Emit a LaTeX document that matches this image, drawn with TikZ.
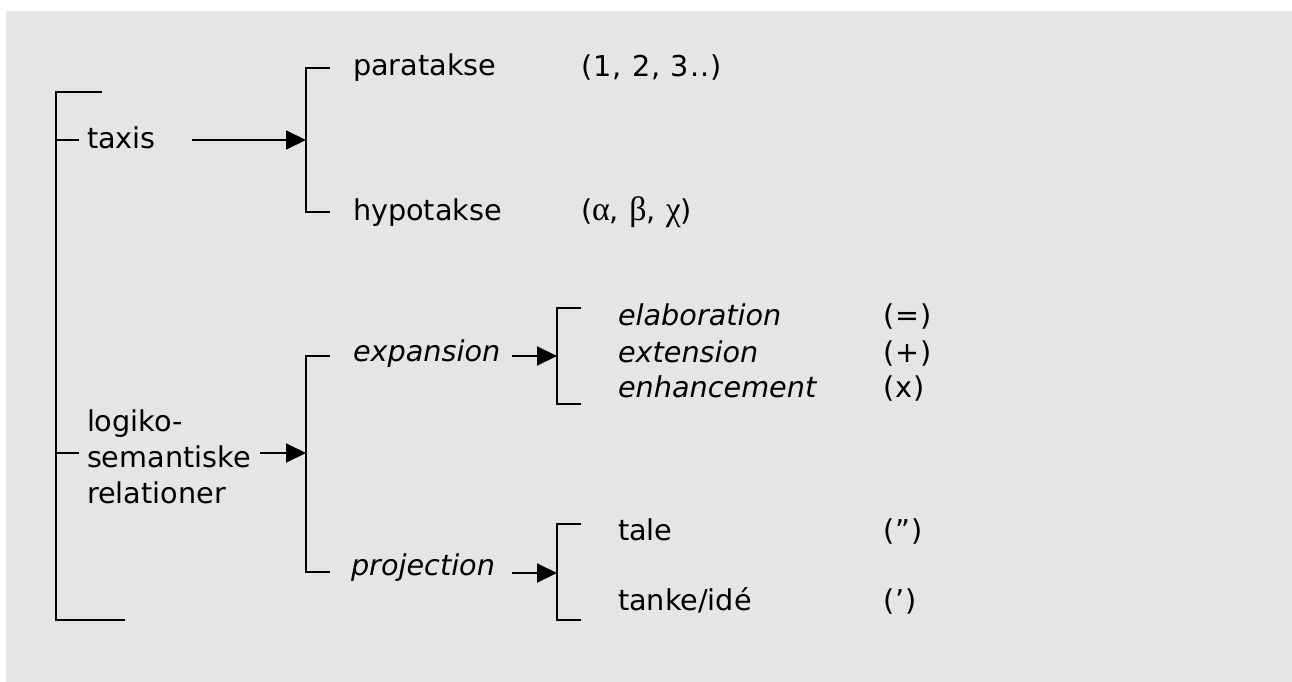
\documentclass[tikz,border=0pt]{standalone}
\usepackage{fontspec}
\setmainfont{DejaVu Sans}
\newfontfamily\greekfont[Scale=1.18]{Liberation Serif}
\newfontfamily\symfont[LetterSpace=4]{DejaVu Sans}
\usetikzlibrary{arrows.meta}
\definecolor{panelgray}{HTML}{E5E5E5}

\begin{document}
\begin{tikzpicture}[x=1pt, y=-1pt, line width=2pt,
  lbl/.style={anchor=base west, inner sep=0pt, font=\fontsize{28.7}{36}\selectfont},
  emlbl/.style={lbl, font=\fontsize{28.7}{36}\selectfont\itshape},
  symlbl/.style={lbl, font=\fontsize{28.7}{36}\symfont},
  link/.style={-{Triangle[length=20pt,width=19pt]}},
  brace/.style={line join=miter}]
\useasboundingbox (0,0) rectangle (1292,682);
\fill[white] (0,0) rectangle (1292,682);
\fill[panelgray] (6,11) rectangle (1292,682);

% outer bracket with its two ticks
\draw[brace] (102,92) -- (56,92) -- (56,620) -- (125,620);
\draw (56,140) -- (79,140);
\draw (56,453) -- (79,453);

% taxis branch
\node[lbl] (taxis) at (86,148) {taxis};
\coordinate (taxisout) at (192,140);
\coordinate (b1m) at (306,140);
\draw[brace] (330,68) -- (306,68) -- (306,212) -- (330,212);
\draw[link] (taxisout) -- (b1m);
\node[lbl] (para) at (352,76) {paratakse};
\node[symlbl] (parasym) at (580,77) {(1, 2, 3..)};
\node[lbl] (hypo) at (352,220) {hypotakse};
\node[symlbl] (hyposym) at (580,220) {({\greekfont α}, {\greekfont β}, {\greekfont χ})};

% logico-semantic branch
\node[anchor=west, inner sep=0pt, align=left, font=\fontsize{28.7}{36}\selectfont] (logiko) at (86,457) {logiko-\\semantiske\\relationer};
\coordinate (logout) at (260,453);
\coordinate (b2m) at (306,453);
\draw[brace] (330,356) -- (306,356) -- (306,572) -- (330,572);
\draw[link] (logout) -- (b2m);

% expansion
\node[emlbl] (expansion) at (352,361) {expansion};
\coordinate (expout) at (512,356);
\coordinate (b3m) at (557,356);
\draw[brace] (581,308) -- (557,308) -- (557,404) -- (581,404);
\draw[link] (expout) -- (b3m);
\node[emlbl] (elab) at (617,325) {elaboration};
\node[symlbl] (elabsym) at (882,325) {(=)};
\node[emlbl] (ext) at (617,362) {extension};
\node[symlbl] (extsym) at (882,362) {(+)};
\node[emlbl] (enh) at (617,397) {enhancement};
\node[symlbl] (enhsym) at (882,397) {(x)};

% projection
\node[emlbl] (projection) at (350,575) {projection};
\coordinate (projout) at (512,573);
\coordinate (b4m) at (557,573);
\draw[brace] (581,524) -- (557,524) -- (557,620) -- (581,620);
\draw[link] (projout) -- (b4m);
\node[lbl] (tale) at (617,540) {tale};
\node[symlbl] (talesym) at (882,540) {(”)};
\node[lbl] (tanke) at (617,610) {tanke/idé};
\node[symlbl] (tankesym) at (882,610) {(’)};
\end{tikzpicture}
\end{document}
